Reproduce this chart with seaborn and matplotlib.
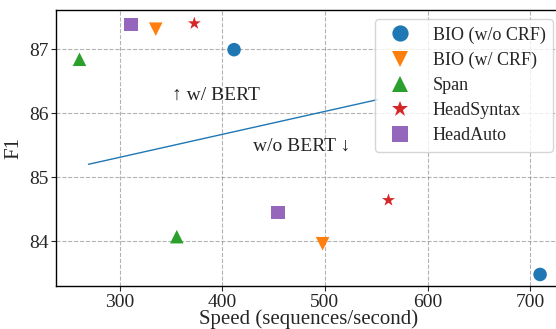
import numpy as np
import pandas as pd
import matplotlib
matplotlib.use("Agg")
import matplotlib.pyplot as plt
import seaborn as sns

# values
models = ["BIO (w/o CRF)", "BIO (w/ CRF)", "Span", "HeadSyntax", "HeadAuto"]
speed_bert = [411.5, 335.2, 260.9, 372.8, 310.9]
f1_bert = [86.99, 87.31, 86.84, 87.40, 87.38]
speed_nobert = [709.7, 497.8, 355.7, 562.0, 454.3]
f1_nobert = [83.48, 83.96, 84.07, 84.64, 84.45]
line_x = [269.6, 551.3]
line_y = [85.20, 86.21]

df = pd.DataFrame({
    "model": models * 2,
    "speed": speed_bert + speed_nobert,
    "f1": f1_bert + f1_nobert,
})

sns.set_style("ticks")
plt.rcParams["font.family"] = ["Liberation Serif", "DejaVu Serif"]

fig = plt.figure(figsize=(5.56, 3.29), dpi=100)
ax = fig.add_axes([0.1007, 0.1307, 0.910, 0.839])

markers = {"BIO (w/o CRF)": "o", "BIO (w/ CRF)": "v", "Span": "^",
           "HeadSyntax": "*", "HeadAuto": "s"}
sns.scatterplot(data=df, x="speed", y="f1", hue="model", style="model",
                markers=markers, hue_order=models, style_order=models,
                palette="tab10", s=95, linewidth=0, ax=ax, zorder=3)

ax.plot(line_x, line_y, color="tab:blue", linewidth=1, zorder=2)

ax.text(351, 86.28, "\u2191 w/ BERT", fontsize=14, va="center", ha="left")
ax.text(430, 85.48, "w/o BERT \u2193", fontsize=14, va="center", ha="left")

ax.set_xlim(238, 731)
ax.set_ylim(83.3, 87.61)
ax.set_xticks([300, 400, 500, 600, 700])
ax.set_yticks([84, 85, 86, 87])
ax.tick_params(labelsize=14, pad=2)
ax.grid(True, linestyle="--", color="gray", alpha=0.6, linewidth=0.8)
ax.set_axisbelow(True)
for sp in ax.spines.values():
    sp.set_color("black")
    sp.set_linewidth(1)
ax.set_xlabel("Speed (sequences/second)", fontsize=15, labelpad=-1)
ax.set_ylabel("F1", fontsize=15)

ax.legend(loc="upper right", fontsize=13, title=None, markerscale=1.2,
          framealpha=0.8, labelspacing=0.45)

fig.savefig("out.png", dpi=100)
